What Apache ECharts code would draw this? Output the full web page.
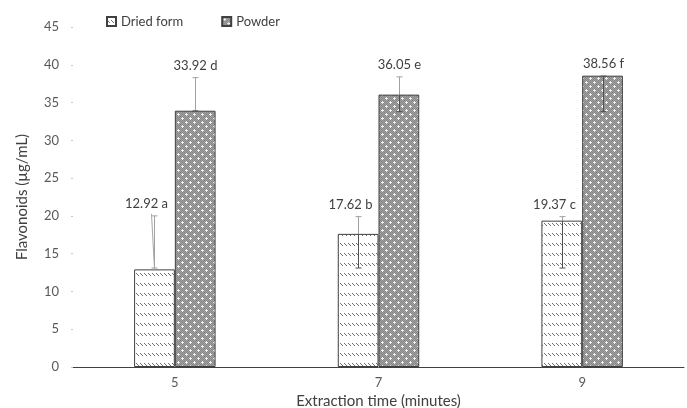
<!DOCTYPE html>
<html><head><meta charset="utf-8">
<script src="https://cdn.jsdelivr.net/npm/echarts@6/dist/echarts.min.js"></script>
<style>html,body{margin:0;padding:0;background:#fff}#c{width:687px;height:408px}</style>
</head><body><div id="c"></div>
<script>
const categories = ['5', '7', '9'];
const driedValues = [12.92, 17.62, 19.37];
const powderValues = [33.92, 36.05, 38.56];
const driedErrLow = [13.1, 13.1, 13.1];
const driedErrHigh = [20.0, 19.9, 19.9];
const powderErrLow = [33.9, 33.8, 33.8];
const powderErrHigh = [38.3, 38.4, 38.5];
const driedLabels = ['12.92 a', '17.62 b', '19.37 c'];
const powderLabels = ['33.92 d', '36.05 e', '38.56 f'];
const yTicks = { min: 0, max: 45, interval: 5 };

const FONT = 'Lato';

function hatchPattern() {
  const c = document.createElement('canvas');
  c.width = 4; c.height = 10;
  const g = c.getContext('2d');
  g.fillStyle = '#ffffff'; g.fillRect(0, 0, 4, 10);
  g.fillStyle = '#6e6e6e';
  g.fillRect(0, 3, 1, 1); g.fillRect(1, 4, 1, 1); g.fillRect(2, 5, 1, 1);
  return c;
}
function dotPattern() {
  const c = document.createElement('canvas');
  c.width = 8; c.height = 8;
  const g = c.getContext('2d');
  g.fillStyle = '#a0a0a0'; g.fillRect(0, 0, 8, 8);
  g.fillStyle = '#888888';
  for (let y = 0; y < 8; y++) for (let x = 0; x < 8; x++) if ((x + y) % 2 === 0) g.fillRect(x, y, 1, 1);
  g.fillStyle = '#f0f0f0';
  [[2,2],[6,6]].forEach(([x,y]) => {
    g.fillRect(x, y, 1, 1); g.fillRect(x-1, y, 1, 1); g.fillRect(x+1, y, 1, 1);
    g.fillRect(x, y-1, 1, 1); g.fillRect(x, y+1, 1, 1);
  });
  return c;
}
const hatchFill = { image: hatchPattern(), repeat: 'repeat' };
const dotFill = { image: dotPattern(), repeat: 'repeat' };

function errSeries(side, vals, lows, highs, labels, dx, leader) {
  return {
    type: 'custom',
    z: 10,
    silent: true,
    clip: false,
    encode: { x: 0, y: 1 },
    data: categories.map((c, i) => [i, highs[i]]),
    renderItem: (params, api) => {
      const i = params.dataIndex;
      const band = api.size([1, 0])[0];
      const bw = band * 0.2;
      const cx = Math.round(api.coord([i, 0])[0] + side * bw / 2) + 0.5;
      const yl = api.coord([i, lows[i]])[1];
      const yh = api.coord([i, highs[i]])[1];
      const yb = api.coord([i, vals[i]])[1];
      const ly = yh - 12;
      const light = '#a0a0a0', dark = '#505050';
      const topOut = Math.min(yb, yl);
      const children = [
        { type: 'line', shape: { x1: cx, y1: yh, x2: cx, y2: topOut }, style: { stroke: light, lineWidth: 1 } },
        { type: 'line', shape: { x1: cx - 3, y1: yh, x2: cx + 3, y2: yh }, style: { stroke: yh > yb ? dark : light, lineWidth: 1 } },
        { type: 'line', shape: { x1: cx - 3, y1: yl, x2: cx + 3, y2: yl }, style: { stroke: yl > yb ? dark : light, lineWidth: 1 } },
        { type: 'text', x: cx + dx, y: ly, style: { text: labels[i], align: 'center', verticalAlign: 'middle', font: '13px ' + FONT, fill: '#404040' } }
      ];
      if (yl > yb) {
        children.push({ type: 'line', shape: { x1: cx, y1: Math.max(yb, yh), x2: cx, y2: yl }, style: { stroke: dark, lineWidth: 1 } });
      }
      if (leader && yb - (ly + 10) > 20) {
        children.push({ type: 'line', shape: { x1: cx + dx + 5, y1: ly + 10, x2: cx, y2: yb }, style: { stroke: '#a6a6a6', lineWidth: 1 } });
      }
      return { type: 'group', children };
    }
  };
}

const chart = echarts.init(document.getElementById('c'), null, { renderer: 'canvas' });
chart.setOption({
  animation: false,
  backgroundColor: '#fff',
  textStyle: { fontFamily: FONT },
  legend: {
    left: 101, top: 10,
    itemWidth: 9, itemHeight: 9, itemGap: 38,
    icon: 'rect',
    textStyle: { fontSize: 13, color: '#404040', fontFamily: FONT },
    data: ['Dried form', 'Powder']
  },
  grid: { left: 73, right: 3, top: 27, bottom: 41, containLabel: false, outerBoundsMode: 'none' },
  xAxis: {
    type: 'category',
    data: categories,
    axisLine: { lineStyle: { color: '#404040', width: 1 } },
    axisTick: { show: false },
    axisLabel: { color: '#595959', fontSize: 13, margin: 9, fontFamily: FONT },
    name: 'Extraction time (minutes)',
    nameLocation: 'middle',
    nameGap: 22,
    nameTextStyle: { color: '#404040', fontSize: 15, fontFamily: FONT }
  },
  yAxis: {
    type: 'value',
    min: yTicks.min, max: yTicks.max, interval: yTicks.interval,
    splitLine: { show: false },
    axisLine: { show: false },
    axisTick: { show: true, length: 2, lineStyle: { color: '#c8c8c8' } },
    axisLabel: { color: '#595959', fontSize: 13, margin: 14, fontFamily: FONT },
    name: 'Flavonoids (µg/mL)',
    nameLocation: 'middle',
    nameRotate: 90,
    nameGap: 43,
    nameTextStyle: { color: '#404040', fontSize: 15, fontFamily: FONT }
  },
  series: [
    {
      name: 'Dried form', type: 'bar', data: driedValues,
      barWidth: '20%', barGap: '0%',
      itemStyle: { color: hatchFill, borderColor: '#404040', borderWidth: 1 }
    },
    {
      name: 'Powder', type: 'bar', data: powderValues,
      barWidth: '20%', barGap: '0%',
      itemStyle: { color: dotFill, borderColor: '#404040', borderWidth: 1 }
    },
    errSeries(-1, driedValues, driedErrLow, driedErrHigh, driedLabels, -8, true),
    errSeries(1, powderValues, powderErrLow, powderErrHigh, powderLabels, 0, false)
  ]
});
</script></body></html>
